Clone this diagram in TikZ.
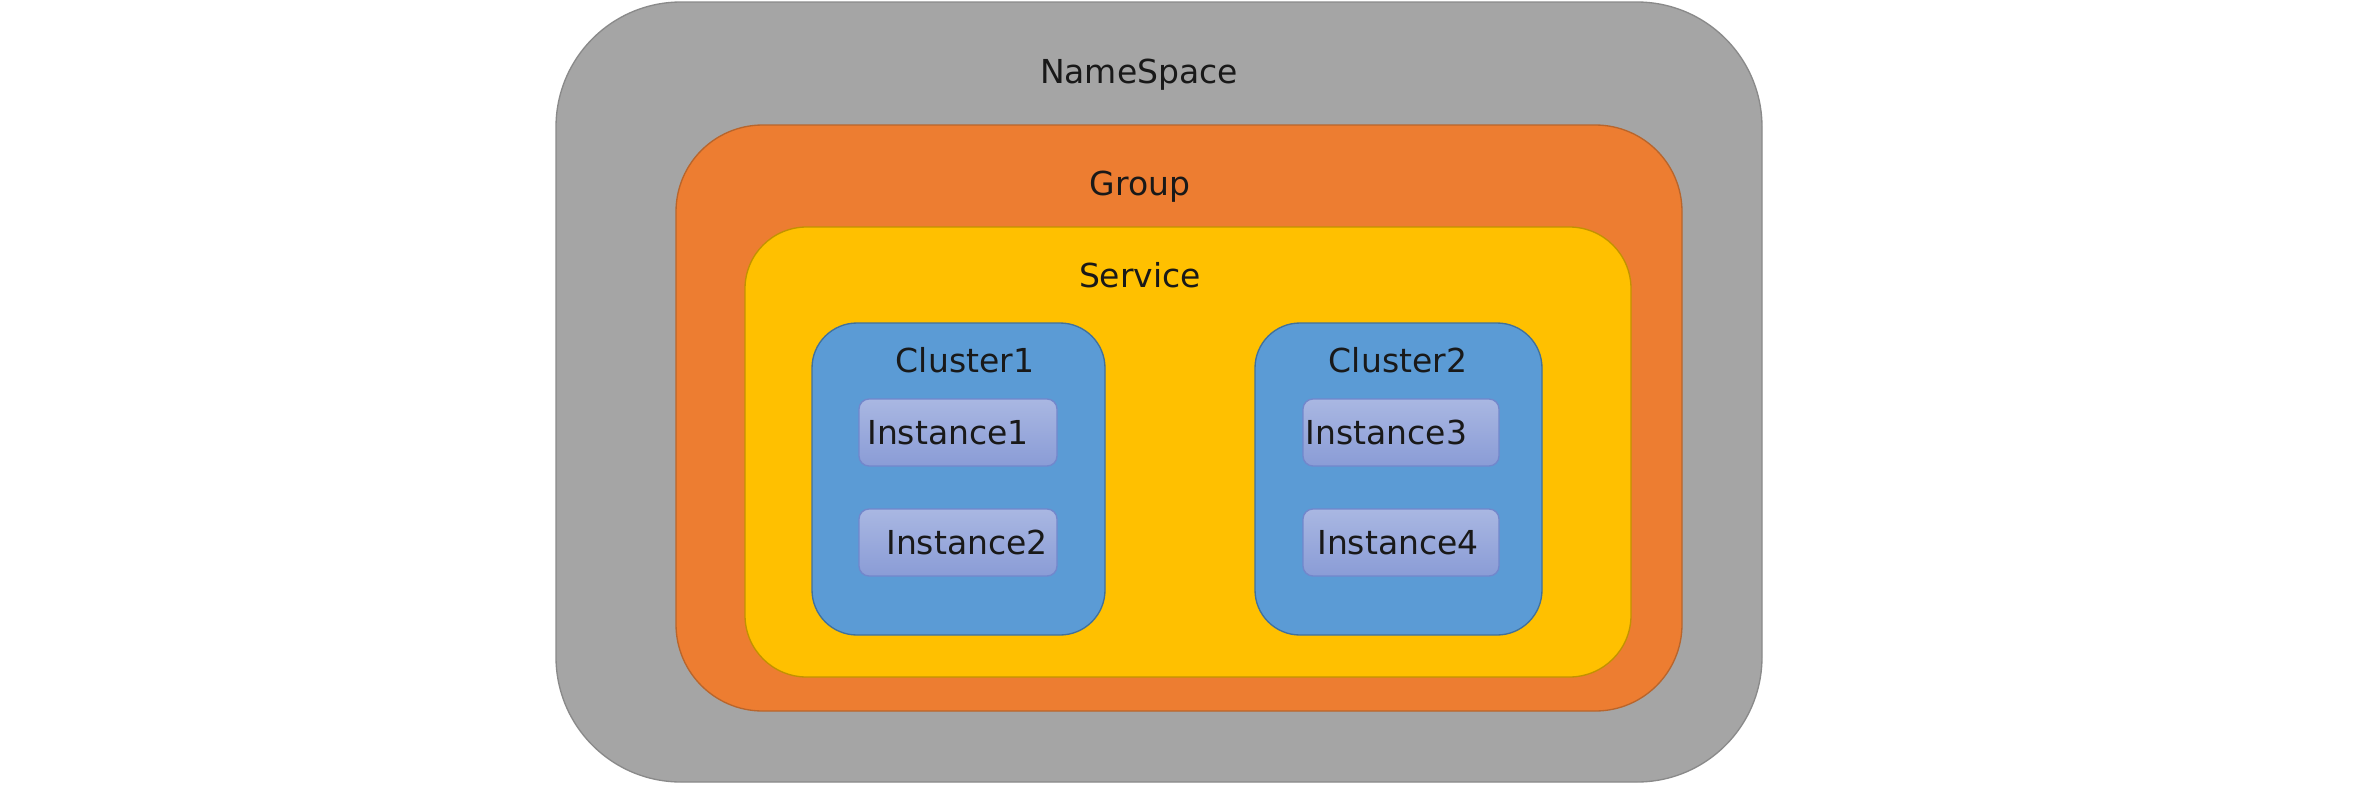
\documentclass[tikz,border=0pt]{standalone}
\usepackage{fontspec}
\setmainfont{DejaVu Sans}
\definecolor{nsfill}{HTML}{A5A5A5}
\definecolor{nsdraw}{HTML}{8A8A8A}
\definecolor{grfill}{HTML}{ED7D31}
\definecolor{grdraw}{HTML}{B8652C}
\definecolor{svfill}{HTML}{FFC000}
\definecolor{svdraw}{HTML}{C29200}
\definecolor{clfill}{HTML}{5B9BD5}
\definecolor{cldraw}{HTML}{41719C}
\definecolor{intop}{HTML}{A9B7E2}
\definecolor{inbot}{HTML}{8A9CD6}
\definecolor{indraw}{HTML}{7287CC}
\tikzset{
  x=0.3pt, y=-0.3pt,
  lbl/.style={inner sep=0pt, anchor=base, font=\fontsize{9.9}{12}\selectfont, text=black!90},
  nsbox/.style={draw=nsdraw, fill=nsfill, line width=0.4pt, rounded corners=37.5pt, inner sep=0pt},
  grbox/.style={draw=grdraw, fill=grfill, line width=0.4pt, rounded corners=26pt, inner sep=0pt},
  svbox/.style={draw=svdraw, fill=svfill, line width=0.4pt, rounded corners=18.5pt, inner sep=0pt},
  clbox/.style={draw=cldraw, fill=clfill, line width=0.4pt, rounded corners=13.5pt, inner sep=0pt},
  inbox/.style={draw=indraw, top color=intop, bottom color=inbot, line width=0.4pt, rounded corners=3pt, inner sep=0pt, minimum width=59.4pt, minimum height=20.1pt},
}
\begin{document}
\begin{tikzpicture}
\useasboundingbox (0,0) rectangle (2364,788);
\node[nsbox, minimum width=361.8pt, minimum height=234pt] (ns) at (1159,392) {};
\node[grbox, minimum width=301.8pt, minimum height=175.8pt] (grp) at (1179,418) {};
\node[svbox, minimum width=265.8pt, minimum height=135pt] (svc) at (1188,452) {};
\node[clbox, minimum width=87.9pt, minimum height=93.6pt] (cl1) at (958.5,479) {};
\node[clbox, minimum width=86.1pt, minimum height=93.6pt] (cl2) at (1398.5,479) {};
\node[inbox] (in1) at (958,432.5) {};
\node[inbox] (in2) at (958,542.5) {};
\node[inbox, minimum width=58.8pt] (in3) at (1401,432.5) {};
\node[inbox, minimum width=58.8pt] (in4) at (1401,542.5) {};
\node[lbl] (tns) at (1139,83) {NameSpace};
\node[lbl] (tgr) at (1140,195) {Group};
\node[lbl] (tsv) at (1140,287) {Service};
\node[lbl] (tc1) at (965,372) {Cluster1};
\node[lbl] (tc2) at (1398,372) {Cluster2};
\node[lbl] (ti1) at (948,444) {Instance1};
\node[lbl] (ti2) at (967,554) {Instance2};
\node[lbl] (ti3) at (1386.5,444) {Instance3};
\node[lbl] (ti4) at (1398,554) {Instance4};
\end{tikzpicture}
\end{document}
